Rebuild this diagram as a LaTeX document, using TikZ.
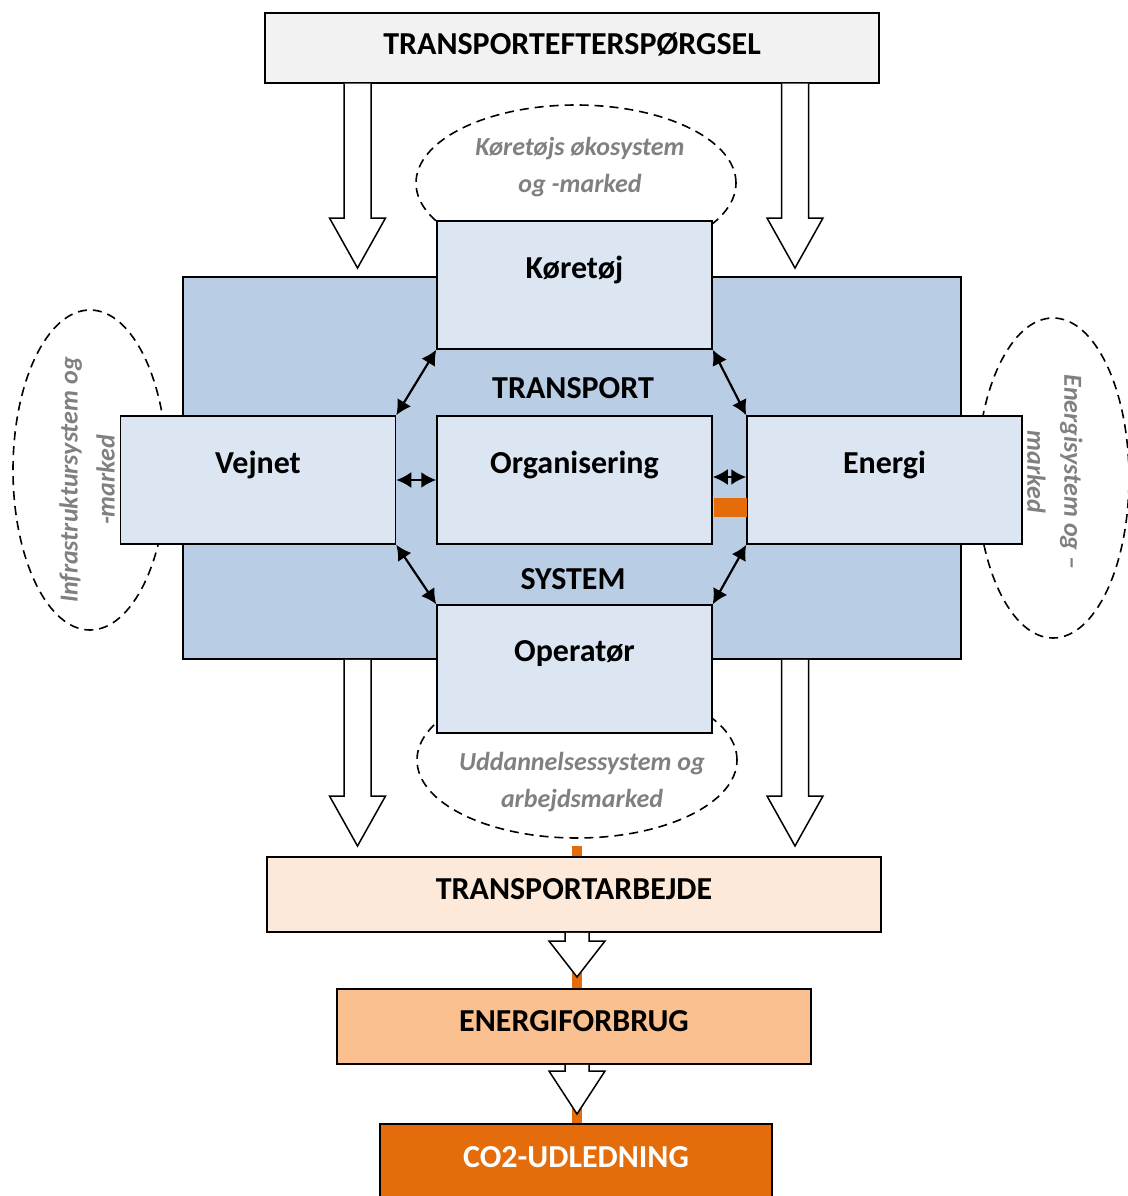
\documentclass[tikz,border=0pt]{standalone}
\usepackage{fontspec}
\setmainfont{Carlito}
\usetikzlibrary{arrows.meta,calc,shapes.geometric}
\definecolor{sysblue}{HTML}{B9CDE5}
\definecolor{boxblue}{HTML}{DCE6F2}
\definecolor{demandgray}{HTML}{F2F2F2}
\definecolor{workpeach}{HTML}{FDE9D9}
\definecolor{energypeach}{HTML}{FAC090}
\definecolor{co2orange}{HTML}{E46C0A}
\definecolor{mktgray}{HTML}{808080}
\tikzset{
  box/.style={draw, line width=1.5pt, rectangle, inner sep=0pt},
  subbox/.style={box, fill=boxblue, minimum width=275pt, minimum height=128pt},
  lbl/.style={font=\fontsize{32}{36}\selectfont\bfseries},
  mkt/.style={draw, ellipse, dash pattern=on 9pt off 6pt, line width=1.6pt, inner sep=0pt},
  mkttxt/.style={align=center, text=mktgray, font=\fontsize{26}{37}\selectfont\bfseries\itshape},
  dbl/.style={line width=2.2pt, {Latex[length=15pt,width=16pt]}-{Latex[length=15pt,width=16pt]}},
  fatarr/.style={draw, fill=white, line width=1.5pt},
  co2line/.style={draw=co2orange, line width=10pt}
}
% start, tip, shaft half width, head half width, head length
\newcommand{\fatarrow}[5]{%
  \draw[fatarr] let \p1=#1, \p2=#2 in
    (\x2-#3,\y1) -- (\x2-#3,\y2+#5) -- (\x2-#4,\y2+#5) -- (\x2,\y2)
    -- (\x2+#4,\y2+#5) -- (\x2+#3,\y2+#5) -- (\x2+#3,\y1);}
\begin{document}
\begin{tikzpicture}[x=1pt, y=-1pt]
\useasboundingbox (0,0) rectangle (1127,1196);

% markets round the system
\node[mkt, minimum width=320pt, minimum height=156pt] (vehmkt) at (576,183) {};
\node[mkt, minimum width=154pt, minimum height=320pt] (infmkt) at (90,470) {};
\node[mkt, minimum width=152pt, minimum height=320pt] (enmkt) at (1053,478) {};
\node[mkt, minimum width=320pt, minimum height=156pt] (edumkt) at (577,760) {};
\node[mkttxt] (vehmkt-txt) at (580,167) {Køretøjs økosystem\\og -marked};
\node[mkttxt, rotate=90] (infmkt-txt) at (87,480) {Infrastruktursystem og\\-marked};
\node[mkttxt, rotate=-90] (enmkt-txt) at (1055,472) {Energisystem og –\\marked};
\node[mkttxt] (edumkt-txt) at (582,782) {Uddannelsessystem og\\arbejdsmarked};

% orange trace down to the emissions
\coordinate (traceTop) at (577,846);
\coordinate (traceEnd) at (577,1130);
\draw[co2line] (traceTop) -- (traceEnd);

% transport system
\node[box, fill=sysblue, minimum width=778pt, minimum height=382pt] (system) at (572,468) {};
\node[lbl] (systop) at (573,388) {TRANSPORT};
\node[lbl] (sysbot) at (573,579) {SYSTEM};
\node[subbox, label={[lbl, yshift=15pt]center:Køretøj}] (koretoj) at (574.5,285) {};
\node[subbox, label={[lbl, yshift=15pt]center:Vejnet}] (vejnet) at (258,480) {};
\node[subbox, label={[lbl, yshift=15pt]center:Organisering}] (org) at (574.5,480) {};
\node[subbox, label={[lbl, yshift=15pt]center:Energi}] (energi) at (884.5,480) {};
\node[subbox, label={[lbl, yshift=15pt]center:Operatør}] (operator) at (574.5,669) {};
\fill[co2orange] (714,498) rectangle (747,517);

\draw[dbl] (koretoj.south west) -- (vejnet.north east);
\draw[dbl] (vejnet.east) -- (org.west);
\draw[dbl] (vejnet.south east) -- (operator.north west);
\draw[dbl] (koretoj.south east) -- (energi.north west);
\draw[dbl] ([yshift=3pt]org.east) -- ([yshift=3pt]energi.west);
\draw[dbl] (operator.north east) -- (energi.south west);

% demand and outcomes
\node[box, fill=demandgray, minimum width=614pt, minimum height=70pt, label={[lbl, yshift=4pt]center:TRANSPORTEFTERSPØRGSEL}] (demand) at (572,48) {};
\node[box, fill=workpeach, minimum width=614pt, minimum height=75pt, label={[lbl, yshift=5pt]center:TRANSPORTARBEJDE}] (work) at (574,894.5) {};
\node[box, fill=energypeach, minimum width=474pt, minimum height=75pt, label={[lbl, yshift=5pt]center:ENERGIFORBRUG}] (energyuse) at (574,1026.5) {};
\node[box, fill=co2orange, minimum width=392pt, minimum height=76pt, label={[lbl, text=white, yshift=5pt]center:CO2-UDLEDNING}] (co2) at (576,1162) {};

% big arrows
\coordinate (tipTL) at (357.5,268);
\coordinate (tipTR) at (795,268);
\coordinate (tipBL) at (357.5,846);
\coordinate (tipBR) at (795,846);
\fatarrow{(demand.south -| tipTL)}{(tipTL)}{13.5pt}{28pt}{50pt}
\fatarrow{(demand.south -| tipTR)}{(tipTR)}{13.5pt}{28pt}{50pt}
\fatarrow{(system.south -| tipBL)}{(tipBL)}{13.5pt}{28pt}{50pt}
\fatarrow{(system.south -| tipBR)}{(tipBR)}{13.5pt}{28pt}{50pt}
\coordinate (tipW) at (577,977);
\coordinate (tipE) at (577,1114);
\fatarrow{(work.south -| tipW)}{(tipW)}{12pt}{28pt}{36pt}
\fatarrow{(energyuse.south -| tipE)}{(tipE)}{12pt}{28pt}{43pt}
\end{tikzpicture}
\end{document}
